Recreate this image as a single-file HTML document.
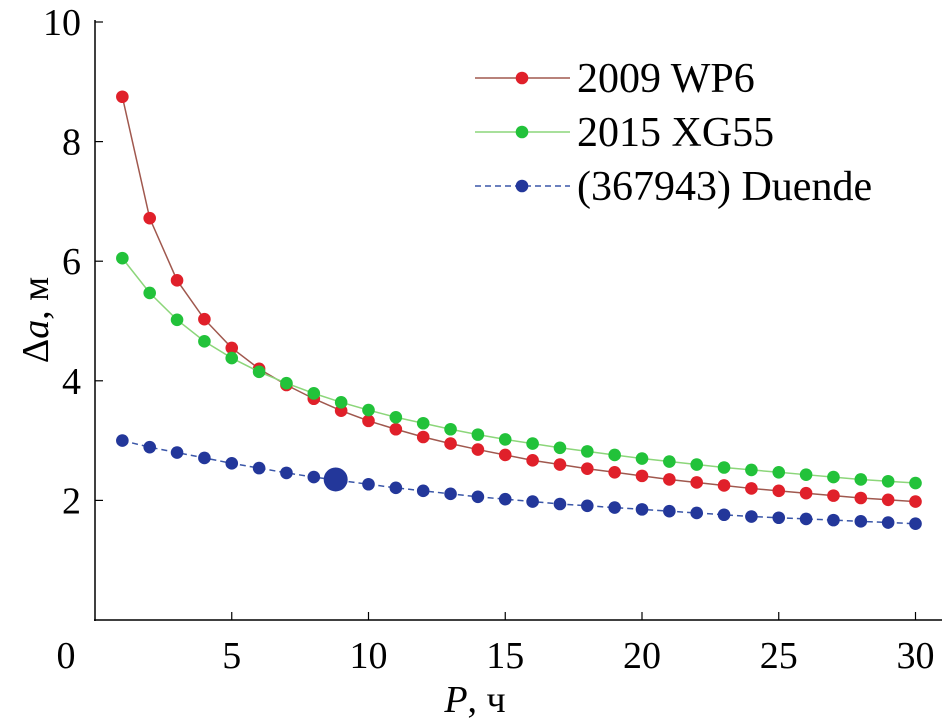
<!DOCTYPE html>
<html><head><meta charset="utf-8"><style>
body{margin:0;background:#fff}
svg{display:block;font-family:"Liberation Serif",serif}
</style></head><body>
<svg id="chart" width="943" height="725" viewBox="0 0 943 725" xmlns="http://www.w3.org/2000/svg">
<g id="axes"></g>
<g id="series"></g>
<g id="legend"></g>
</svg>
<script>
const periods = [1,2,3,4,5,6,7,8,9,10,11,12,13,14,15,16,17,18,19,20,21,22,23,24,25,26,27,28,29,30];
const wp6 = [8.75,6.72,5.68,5.03,4.55,4.2,3.93,3.7,3.5,3.33,3.19,3.06,2.95,2.85,2.76,2.67,2.6,2.53,2.47,2.41,2.35,2.3,2.25,2.2,2.16,2.12,2.08,2.04,2.01,1.98];
const xg55 = [6.05,5.47,5.02,4.66,4.38,4.15,3.96,3.79,3.64,3.51,3.39,3.29,3.19,3.1,3.02,2.95,2.88,2.82,2.76,2.7,2.65,2.6,2.55,2.51,2.47,2.43,2.39,2.35,2.32,2.29];
const duende = [3.0,2.89,2.8,2.71,2.62,2.54,2.46,2.39,2.33,2.27,2.21,2.16,2.11,2.06,2.02,1.98,1.94,1.91,1.88,1.85,1.82,1.79,1.76,1.73,1.71,1.69,1.67,1.65,1.63,1.61];
const duendeMarker = [8.8, 2.35];
const xTicks = [0,5,10,15,20,25,30];
const yTicks = [2,4,6,8,10];
const seriesNames = ["2009 WP6","2015 XG55","(367943) Duende"];

const NS="http://www.w3.org/2000/svg";
const X = v => 95 + v*27.35;
const Y = v => 620 - v*59.8;
function mk(tag, attrs, parent){const e=document.createElementNS(NS,tag);for(const k in attrs)e.setAttribute(k,attrs[k]);parent.appendChild(e);return e;}
const axes=document.getElementById('axes'), ser=document.getElementById('series'), leg=document.getElementById('legend');

let l=mk('line',{x1:95,y1:20,x2:95,y2:621,stroke:'#000','stroke-width':1.5},axes);


l=mk('line',{x1:94,y1:620,x2:942,y2:620,stroke:'#000','stroke-width':1.5},axes);


xTicks.forEach(t=>{
  const x = t===0 ? 66 : X(t);
  if(t>0) mk('line',{x1:X(t),y1:620,x2:X(t),y2:612,stroke:'#000','stroke-width':1.2},axes);
  const tx=mk('text',{x:x,y:668,'font-size':38,'text-anchor':'middle'},axes);tx.textContent=t;
  
  
});
yTicks.forEach(t=>{
  mk('line',{x1:95,y1:Y(t),x2:103,y2:Y(t),stroke:'#000','stroke-width':1.2},axes);
  const tx=mk('text',{x:81,y:Y(t)+13,'font-size':38,'text-anchor':'end'},axes);tx.textContent=t;
  
  
});
let xt=mk('text',{x:475,y:712,'font-size':38,'text-anchor':'middle'},axes);
xt.innerHTML='<tspan font-style="italic">P</tspan>, ч';


let yt=mk('text',{x:0,y:0,'font-size':38,'text-anchor':'middle',transform:'translate(48,320) rotate(-90)'},axes);
yt.innerHTML='Δ<tspan font-style="italic">a</tspan>, м';



const styles=[{d:wp6,line:'#a0584e',dot:'#e0202a',dash:''},{d:xg55,line:'#8cd67a',dot:'#22c23a',dash:''},{d:duende,line:'#3a56a8',dot:'#23379a',dash:'6,4'}];
styles.forEach((s,i)=>{
  const pts=periods.map((p,j)=>X(p)+','+Y(s.d[j])).join(' ');
  const pl=mk('polyline',{points:pts,fill:'none',stroke:s.line,'stroke-width':1.5,'stroke-dasharray':s.dash},ser);
  
  
  periods.forEach((p,j)=>{
    const c=mk('circle',{cx:X(p),cy:Y(s.d[j]),r:6.3,fill:s.dot},ser);
    
    
  });
  const ly=78+i*54;
  const ll=mk('line',{x1:475,y1:ly,x2:570,y2:ly,stroke:s.line,'stroke-width':1.5,'stroke-dasharray':s.dash},leg);
  
  
  const lc=mk('circle',{cx:522,cy:ly,r:6.3,fill:s.dot},leg);
  
  
  const lt=mk('text',{x:577,y:ly+14,'font-size':42},leg);lt.textContent=seriesNames[i];
  
  
});
const big=mk('circle',{cx:X(duendeMarker[0]),cy:Y(duendeMarker[1]),r:12,fill:'#23379a'},ser);


</script>
</body></html>
